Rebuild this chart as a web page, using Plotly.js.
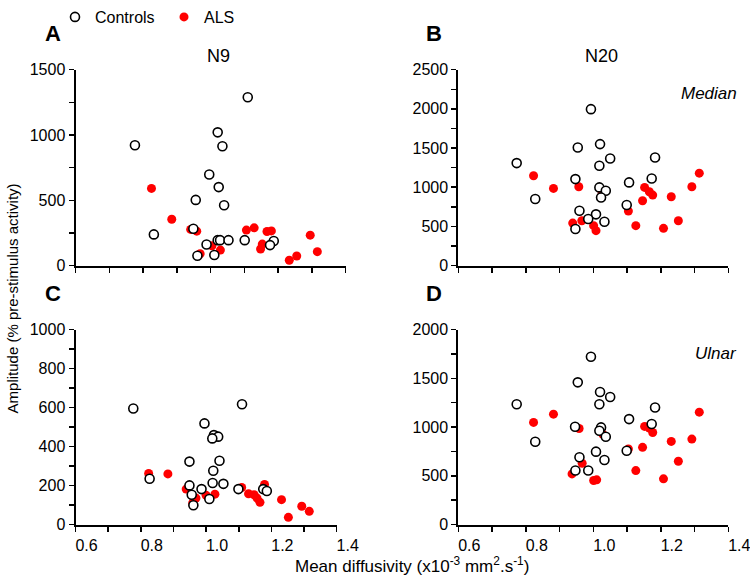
<!DOCTYPE html>
<html><head><meta charset="utf-8">
<script src="https://cdn.plot.ly/plotly-3.0.1.min.js"></script>
<style>html,body{margin:0;padding:0;background:#fff}#chart{width:750px;height:579px}</style>
</head><body><div id="chart"></div>
<script>
// Panel A: N9, median
const aCtrlX = [1.110,0.776,1.021,1.035,0.996,1.024,0.956,1.040,0.832,0.949,0.988,1.021,1.028,1.053,1.101,0.961,1.011,1.187,1.176];
const aCtrlY = [1289,921,1020,914,698,601,503,462,239,282,162,195,195,195,195,76,81,188,157];
const aAlsX = [0.825,0.885,0.941,0.959,0.969,1.004,1.029,1.106,1.129,1.153,1.148,1.167,1.180,1.233,1.255,1.295,1.316];
const aAlsY = [591,355,277,264,91,152,119,272,289,165,127,261,266,41,74,233,107];
// Panel B: N20, median
const bCtrlX = [0.993,0.954,1.020,1.050,1.018,0.773,1.183,0.947,1.173,1.106,1.018,1.037,1.023,0.828,1.099,0.959,1.008,0.985,1.033,0.947];
const bCtrlY = [1996,1507,1550,1367,1274,1308,1380,1104,1112,1062,998,955,870,849,773,701,654,594,560,467];
const bAlsX = [0.823,0.882,0.957,0.939,0.966,1.001,1.008,1.026,1.104,1.126,1.146,1.152,1.166,1.176,1.231,1.208,1.252,1.292,1.314];
const bAlsY = [1146,985,1006,543,573,510,446,913,696,510,828,998,943,900,879,476,573,1006,1180];
// Panel C: N9, ulnar
const cCtrlX = [0.777,1.110,0.995,1.024,1.037,1.019,0.949,1.041,1.022,0.827,0.949,1.020,1.053,0.986,0.956,1.010,0.961,1.099,1.175,1.186];
const cCtrlY = [595,617,519,459,451,442,323,327,276,235,201,213,209,182,153,131,99,182,182,172];
const cAlsX = [0.824,0.883,0.939,0.969,0.959,1.000,1.027,1.109,1.130,1.147,1.156,1.165,1.179,1.231,1.252,1.293,1.316];
const cAlsY = [262,260,182,136,111,150,156,190,158,153,136,114,206,128,37,94,68];
// Panel D: N20, ulnar
const dCtrlX = [0.993,0.954,1.020,1.050,1.018,0.773,1.183,1.106,1.173,0.946,1.023,1.018,1.037,0.828,1.099,1.008,0.959,1.033,0.985,0.947];
const dCtrlY = [1721,1459,1360,1309,1235,1235,1201,1082,1031,1003,997,962,901,850,758,748,690,663,554,554];
const dAlsX = [0.823,0.882,0.958,1.028,0.967,0.937,1.001,1.010,1.104,1.126,1.146,1.152,1.166,1.176,1.231,1.208,1.252,1.292,1.314];
const dAlsY = [1048,1133,986,928,629,520,452,459,775,554,792,1007,990,945,853,469,650,877,1153];

const xTicks = [0.6,0.8,1.0,1.2,1.4];
const xTickText = ['0.6','0.8','1.0','1.2','1.4'];
const yTicksA = [0,500,1000,1500];
const yTicksB = [0,500,1000,1500,2000,2500];
const yTicksC = [0,200,400,600,800,1000];
const yTicksD = [0,500,1000,1500,2000];

const FONT = 'Liberation Sans, Arial, Helvetica, sans-serif';
const panels = [
  {cx:aCtrlX, cy:aCtrlY, ax:aAlsX, ay:aAlsY, xa:'x', ya:'y', leg:true},
  {cx:bCtrlX, cy:bCtrlY, ax:bAlsX, ay:bAlsY, xa:'x2', ya:'y2', leg:false},
  {cx:cCtrlX, cy:cCtrlY, ax:cAlsX, ay:cAlsY, xa:'x3', ya:'y3', leg:false},
  {cx:dCtrlX, cy:dCtrlY, ax:dAlsX, ay:dAlsY, xa:'x4', ya:'y4', leg:false}
];
const traces = [];
panels.forEach(p => {
  traces.push({x:p.ax, y:p.ay, xaxis:p.xa, yaxis:p.ya, type:'scatter', mode:'markers', name:'ALS',
    showlegend:false, legendrank:2,
    marker:{size:9, color:'#ff0000', line:{width:0}}});
});
panels.forEach(p => {
  traces.push({x:p.cx, y:p.cy, xaxis:p.xa, yaxis:p.ya, type:'scatter', mode:'markers', name:'Controls',
    showlegend:p.leg, legendrank:1,
    marker:{size:9, color:'#ffffff', line:{width:1.6, color:'#000000'}}});
});
traces[0].showlegend = true;

function xax(domain, anchor, labels){
  return {domain:domain, anchor:anchor, range:[0.6,1.4], tickvals:xTicks, ticktext:xTickText,
    showticklabels:labels, ticklabelshift:11, ticklabeloverflow:'allow', ticks:'outside', ticklen:5, tickwidth:1.5, tickcolor:'#000',
    minor:{dtick:0.1, tick0:0.6, ticks:'outside', ticklen:5, tickwidth:1.5, tickcolor:'#000', showgrid:false},
    showline:true, linewidth:2, linecolor:'#000', showgrid:false, zeroline:false,
    tickfont:{family:FONT, size:16, color:'#000'}, fixedrange:true};
}
function yax(domain, anchor, range, tv, minorStep){
  return {domain:domain, anchor:anchor, range:range, tickvals:tv,
    ticks:'outside', ticklen:5, tickwidth:1.5, tickcolor:'#000',
    minor:{dtick:minorStep, tick0:0, ticks:'outside', ticklen:5, tickwidth:1.5, tickcolor:'#000', showgrid:false},
    showline:true, linewidth:2, linecolor:'#000', showgrid:false, zeroline:false,
    tickfont:{family:FONT, size:16, color:'#000'}, fixedrange:true};
}
const topDom = [1-264/579, 1-67/579];
const botDom = [1-524.3/579, 1-328.3/579];
const leftDomTop = [75.5/750, 345.7/750];
const leftDomBot = [75.5/750, 336.7/750];
const rightDom = [458.3/750, 728.3/750];

const ann = (text, x, y, opts={}) => Object.assign({text:text, x:x/750, y:1-y/579, xref:'paper', yref:'paper',
  showarrow:false, font:{family:FONT, size:16, color:'#000'}, xanchor:'center', yanchor:'middle'}, opts);

const layout = {
  width:750, height:579, margin:{l:0,r:0,t:0,b:0}, paper_bgcolor:'#fff', plot_bgcolor:'rgba(0,0,0,0)',
  font:{family:FONT, color:'#000'},
  xaxis: xax(leftDomTop, 'y', false),
  yaxis: yax(topDom, 'x', [0,1500], yTicksA, 250),
  xaxis2: xax(rightDom, 'y2', false),
  yaxis2: yax(topDom, 'x2', [0,2500], yTicksB, 250),
  xaxis3: xax(leftDomBot, 'y3', true),
  yaxis3: yax(botDom, 'x3', [0,1000], yTicksC, 100),
  xaxis4: xax(rightDom, 'y4', true),
  yaxis4: yax(botDom, 'x4', [0,2000], yTicksD, 250),
  showlegend:true,
  legend:{orientation:'h', x:55/750, y:1-(-3)/579, xanchor:'left', yanchor:'top', bgcolor:'rgba(0,0,0,0)',
    font:{family:FONT, size:16, color:'#000'}, itemwidth:30, entrywidth:64, entrywidthmode:'pixels', traceorder:'normal'},
  annotations:[
    ann('<b>A</b>', 53, 31, {font:{family:FONT, size:22, color:'#000'}}),
    ann('<b>B</b>', 434, 31, {font:{family:FONT, size:22, color:'#000'}}),
    ann('<b>C</b>', 53, 292, {font:{family:FONT, size:22, color:'#000'}}),
    ann('<b>D</b>', 434, 292, {font:{family:FONT, size:22, color:'#000'}}),
    ann('N9', 218, 53, {font:{family:FONT, size:18, color:'#000'}}),
    ann('N20', 601, 53, {font:{family:FONT, size:18, color:'#000'}}),
    ann('<i>Median</i>', 739, 91, {xanchor:'right', font:{family:FONT, size:17, color:'#000'}}),
    ann('<i>Ulnar</i>', 739, 352, {xanchor:'right', font:{family:FONT, size:17, color:'#000'}}),
    ann('Amplitude (% pre-stimulus activity)', 12, 297, {textangle:-90, font:{family:FONT, size:15, color:'#000'}}),
    ann('Mean diffusivity (x10<sup>-3</sup> mm<sup>2</sup>.s<sup>-1</sup>)', 412, 565, {font:{family:FONT, size:17, color:'#000'}})
  ]
};
Plotly.newPlot('chart', traces, layout, {staticPlot:true, displayModeBar:false});
</script>
</body></html>
